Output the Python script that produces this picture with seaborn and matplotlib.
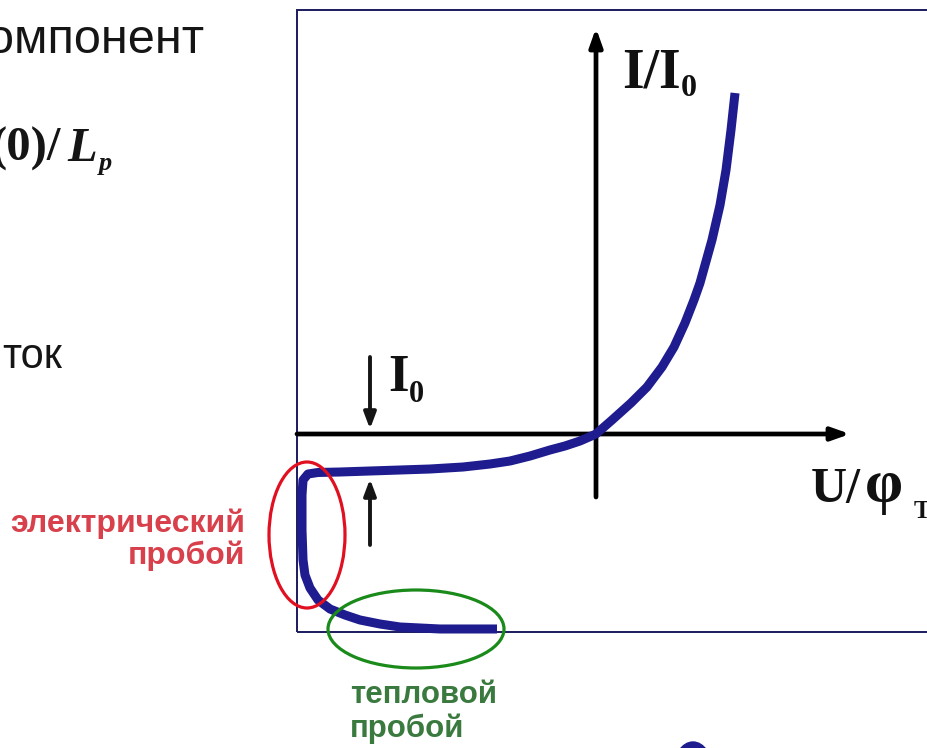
import matplotlib
matplotlib.use("Agg")
import matplotlib.pyplot as plt
from matplotlib.patches import Ellipse, Rectangle
import seaborn as sns
import pandas as pd

# Current-voltage characteristic of a p-n junction (normalised units):
# forward branch, reverse saturation, electric and thermal breakdown
u_norm = [2.317, 2.250, 2.167, 2.067, 1.933, 1.733, 1.633, 1.483, 1.300,
          1.100, 0.850, 0.583, 0.267, 0.0,
          -0.267, -0.517, -0.767, -1.100, -1.433, -1.767, -2.217, -2.767,
          -3.267, -3.767, -4.267, -4.633, -4.800, -4.883, -4.900, -4.900,
          -4.883, -4.850, -4.767, -4.633, -4.433, -4.183, -3.933, -3.600,
          -3.267, -2.600, -1.650]
i_norm = [9.216, 8.216, 7.135, 6.189, 5.243, 4.081, 3.622, 3.000, 2.351,
          1.811, 1.270, 0.838, 0.378, 0.0,
          -0.189, -0.324, -0.432, -0.595, -0.730, -0.811, -0.892, -0.946,
          -0.973, -1.000, -1.027, -1.040, -1.081, -1.243, -1.649, -2.595,
          -3.405, -3.811, -4.162, -4.486, -4.730, -4.892, -5.027, -5.135,
          -5.216, -5.270, -5.270]

x_label = ["U/", "φ", "T"]
y_label = ["I/I", "0"]
sat_label = ["I", "0"]
electric_label = ["электрический", "пробой"]
thermal_label = ["тепловой", "пробой"]
side_texts = ["омпонент", "ток"]
formula_parts = ["(0)/", "L", "p"]

sns.set_theme(style="white")
plt.rcParams["font.family"] = ["Liberation Sans", "DejaVu Sans"]

W, H = 928, 748
fig = plt.figure(figsize=(W / 100, H / 100), dpi=100)
ax = fig.add_axes([0, 0, 1, 1])
ax.axis("off")

# layout scale: pixels per unit and origin position
X0, Y0, SX, SY = 596, 434, 60.0, 37.0
ax.set_xlim((0 - X0) / SX, (W - X0) / SX)
ax.set_ylim((Y0 - H) / SY, Y0 / SY)


def P(px, py):
    return ((px - X0) / SX, (Y0 - py) / SY)


navy = "#1e1c8e"
ink = "#111111"

# frame
fx, fy = P(297, 632)
fx2, fy2 = P(960, 10)
ax.add_patch(Rectangle((fx, fy), fx2 - fx, fy2 - fy, fill=False,
                       ec="#1a1a5e", lw=1.4, zorder=1))

# coordinate axes
arrow_kw = dict(arrowstyle="-|>,head_length=0.9,head_width=0.32",
                color="black", lw=3.4, shrinkA=0, shrinkB=0)
ax.annotate("", xy=P(850, 434), xytext=P(297, 434), arrowprops=arrow_kw)
ax.annotate("", xy=P(596, 28), xytext=P(596, 497), arrowprops=arrow_kw)

# characteristic curve
df = pd.DataFrame({"U": u_norm, "I": i_norm})
sns.lineplot(data=df, x="U", y="I", sort=False, estimator=None, ax=ax,
             color=navy, lw=6.5, solid_capstyle="butt",
             solid_joinstyle="round", zorder=3)

# saturation current marker
small_kw = dict(arrowstyle="-|>,head_length=0.8,head_width=0.3",
                color="#151515", lw=2.8, shrinkA=0, shrinkB=0)
ax.annotate("", xy=P(370, 429), xytext=P(370, 357), arrowprops=small_kw)
ax.annotate("", xy=P(370, 479), xytext=P(370, 545), arrowprops=small_kw)

# breakdown regions
cx, cy = P(307, 535)
ax.add_patch(Ellipse((cx, cy), 76 / SX, 146 / SY, fill=False,
                     ec="#e01020", lw=2.3, zorder=4))
cx, cy = P(416, 629)
ax.add_patch(Ellipse((cx, cy), 176 / SX, 78 / SY, fill=False,
                     ec="#1a8a1a", lw=2.3, zorder=4))

# decorative mark at the lower edge
cx, cy = P(693, 772)
ax.add_patch(Ellipse((cx, cy), 40 / SX, 60 / SY, color=navy, zorder=2))

serif = ["Liberation Serif", "DejaVu Serif"]
bold_serif = dict(family=serif, weight="bold", color=ink,
                  va="baseline", ha="left")

# axis captions
ax.text(*P(622, 88), y_label[0], fontsize=40, **bold_serif)
ax.text(*P(681, 96), y_label[1], fontsize=23, **bold_serif)
ax.text(*P(388, 391), sat_label[0], fontsize=38, **bold_serif)
ax.text(*P(409, 402), sat_label[1], fontsize=22, **bold_serif)
ax.text(*P(811, 502), x_label[0], fontsize=36, **bold_serif)
ax.text(*P(865, 502), x_label[1], fontsize=44, **bold_serif)
ax.text(*P(914, 518), x_label[2], fontsize=18, **bold_serif)

# breakdown captions
red_txt = dict(fontsize=23, weight="bold", color="#d8404c",
               ha="right", va="baseline")
ax.text(*P(245, 532), electric_label[0], **red_txt)
ax.text(*P(245, 564), electric_label[1], **red_txt)
green_txt = dict(fontsize=22.5, weight="bold", color="#3a7a3e",
                 ha="left", va="baseline")
ax.text(*P(350, 703), thermal_label[0], **green_txt)
ax.text(*P(350, 737), thermal_label[1], **green_txt)

# fragments of surrounding text
ax.text(*P(-13, 53), side_texts[0], fontsize=35, color="#151515",
        ha="left", va="baseline")
ax.text(*P(2, 368), side_texts[1], fontsize=30, color="#151515",
        ha="left", va="baseline")
ax.text(*P(-9, 161), formula_parts[0], fontsize=35, color="#151515",
        family=serif, weight="bold", ha="left", va="baseline")
ax.text(*P(67, 161), formula_parts[1], fontsize=35, color="#151515",
        family=serif, weight="bold", style="italic", ha="left",
        va="baseline")
ax.text(*P(99, 170), formula_parts[2], fontsize=19, color="#151515",
        family=serif, weight="bold", style="italic", ha="left",
        va="baseline")

fig.savefig("out.png", dpi=100, facecolor="white")
